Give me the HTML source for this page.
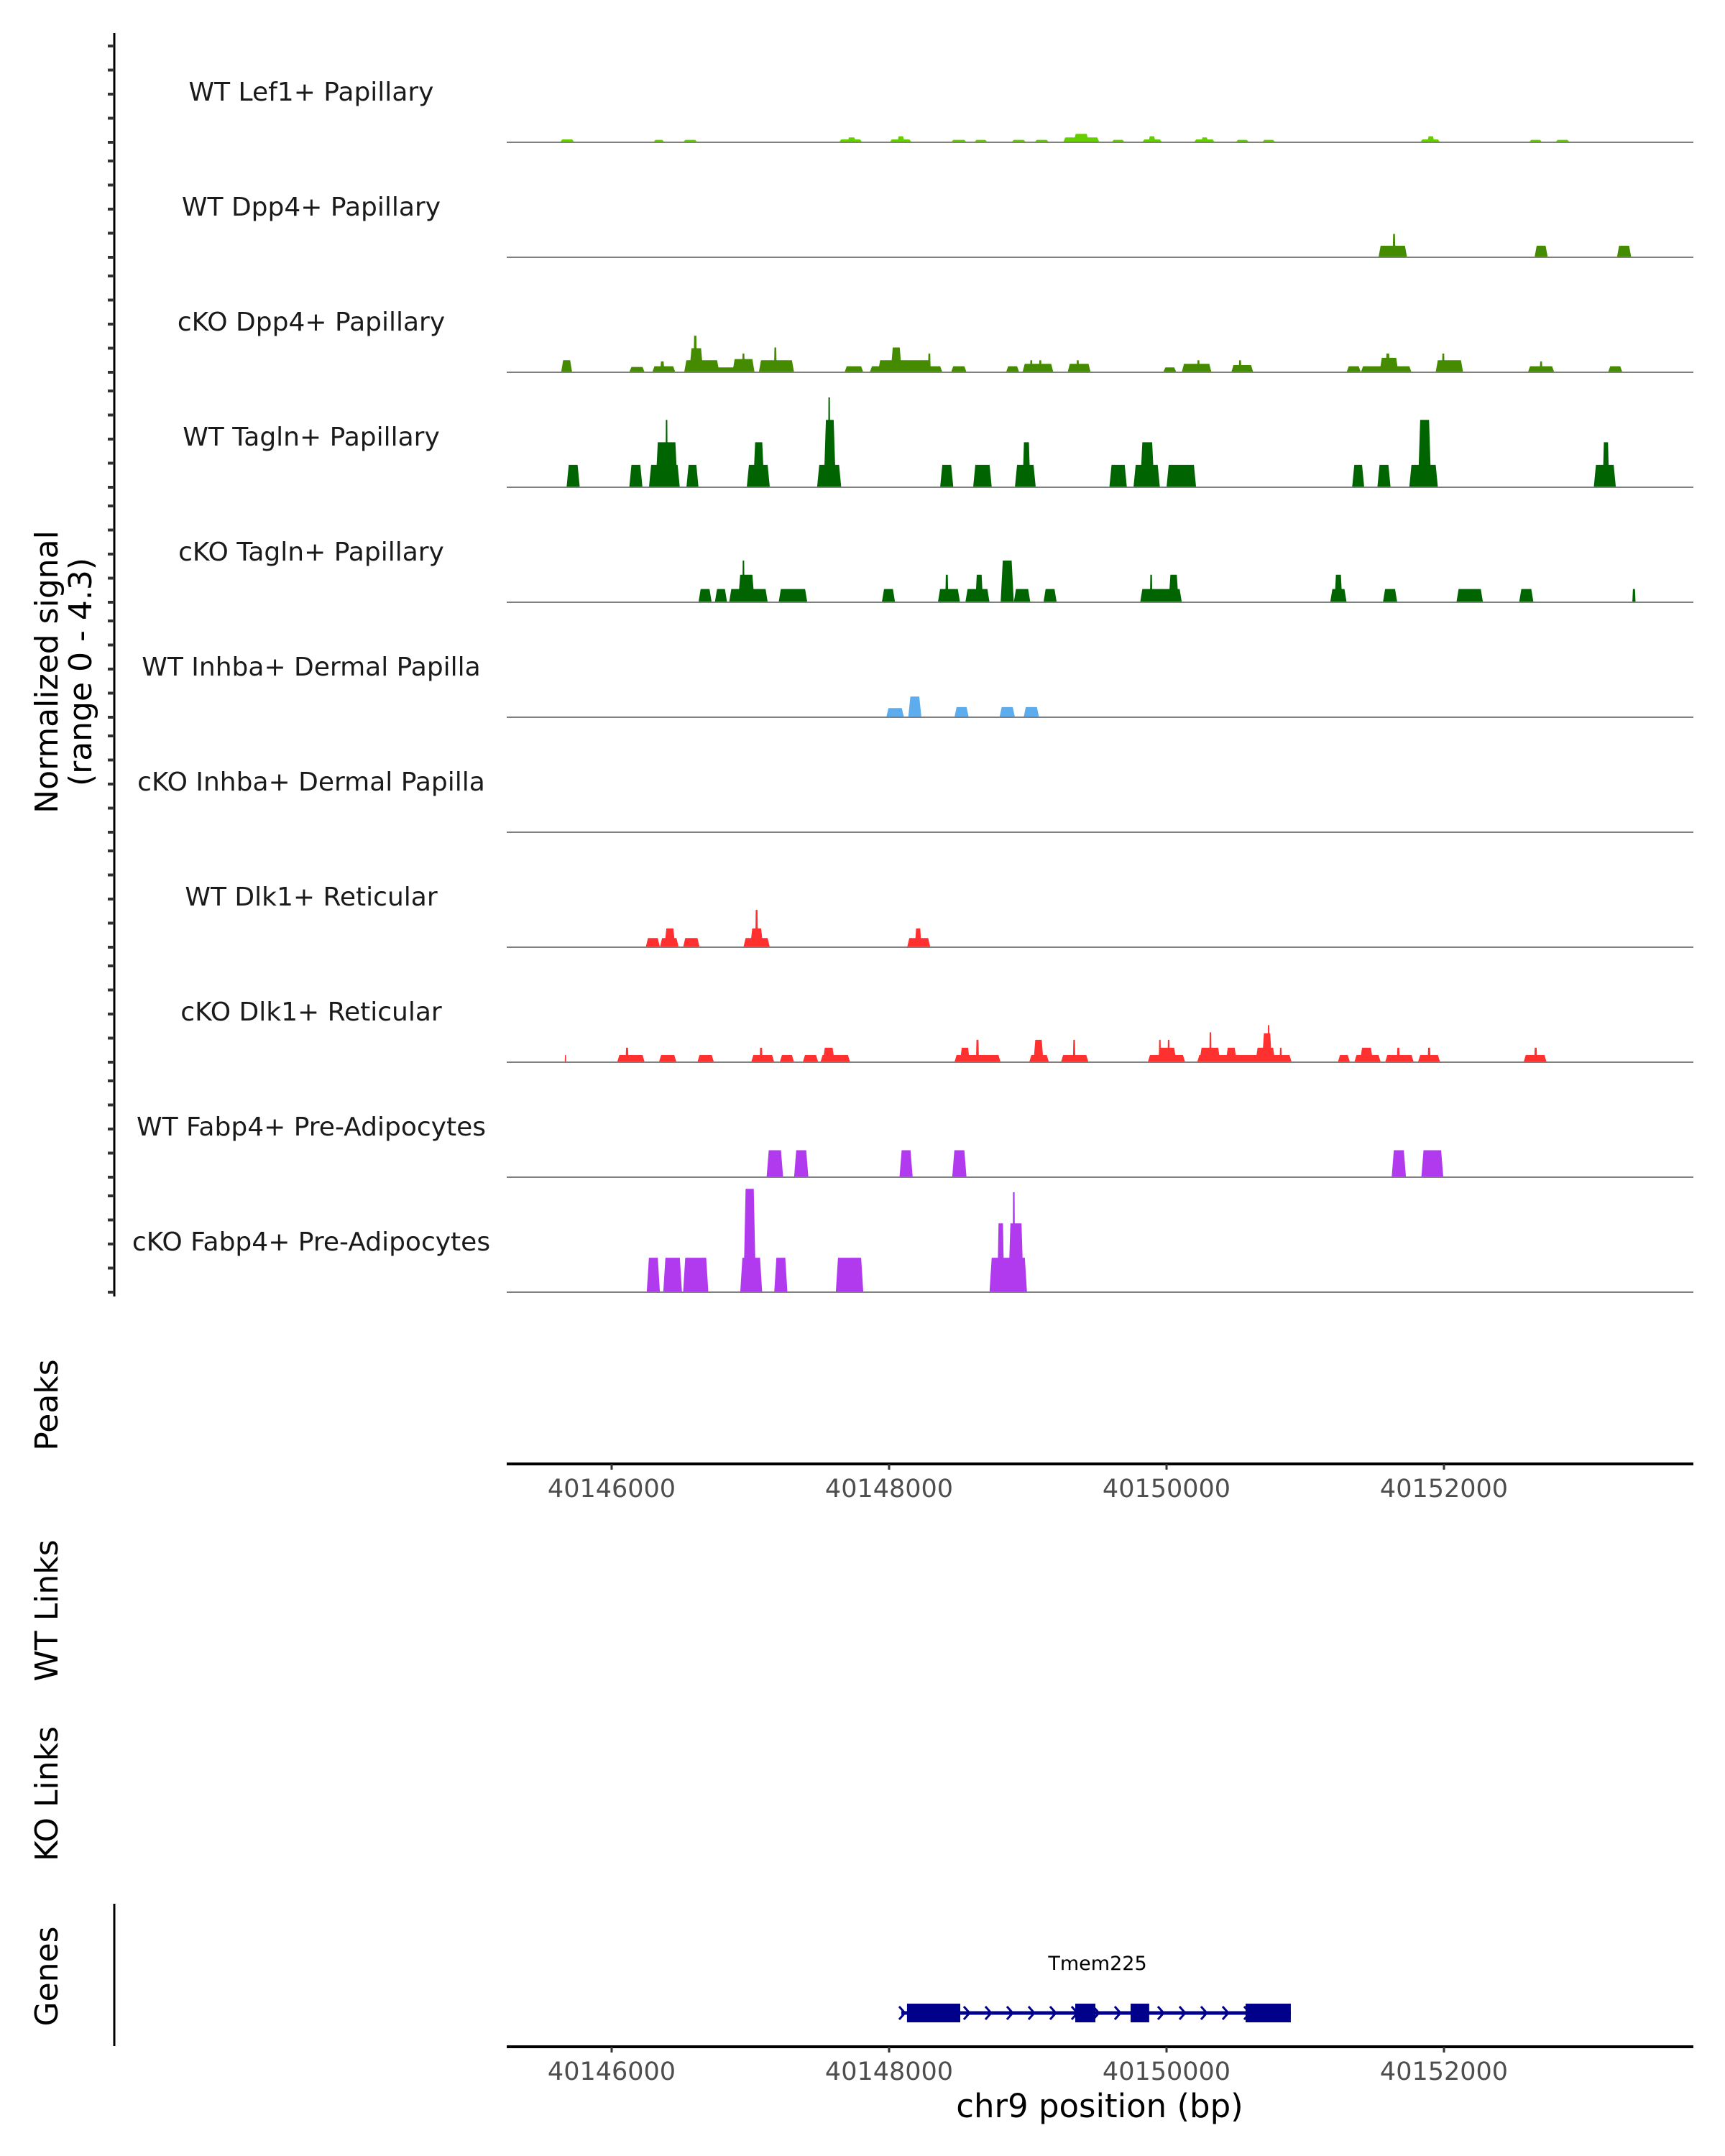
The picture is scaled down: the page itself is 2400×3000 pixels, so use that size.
<!DOCTYPE html>
<html><head><meta charset="utf-8"><style>
html,body{margin:0;padding:0;background:#fff;}
svg{display:block;font-family:"DejaVu Sans","Liberation Sans",sans-serif;}
</style></head><body>
<svg id="chart" width="2400" height="3000" viewBox="0 0 2400 3000" xmlns="http://www.w3.org/2000/svg">
<g id="tracks"></g>
<g id="labels" font-size="36" fill="#1a1a1a" text-anchor="middle"></g>
<line x1="159" y1="46" x2="159" y2="1804" stroke="#000" stroke-width="3"/>
<g id="yticks"></g>
<text transform="translate(80,935) rotate(-90)" text-anchor="middle" font-size="44" fill="#000">Normalized signal</text>
<text transform="translate(127,935) rotate(-90)" text-anchor="middle" font-size="44" fill="#000">(range 0 - 4.3)</text>
<text transform="translate(80,1955) rotate(-90)" text-anchor="middle" font-size="44" fill="#000">Peaks</text>
<text transform="translate(80,2241) rotate(-90)" text-anchor="middle" font-size="44" fill="#000">WT Links</text>
<text transform="translate(80,2496) rotate(-90)" text-anchor="middle" font-size="44" fill="#000">KO Links</text>
<text transform="translate(80,2750) rotate(-90)" text-anchor="middle" font-size="44" fill="#000">Genes</text>
<line x1="159" y1="2649" x2="159" y2="2847" stroke="#000" stroke-width="3"/>
<g id="axis1"></g>
<g id="axis2"></g>
<g id="gene"></g>
<text x="1527" y="2741" text-anchor="middle" font-size="27" fill="#000">Tmem225</text>
<text x="1530" y="2946" text-anchor="middle" font-size="45" fill="#000">chr9 position (bp)</text>
</svg>
<script>
const BASE = 40146000;
const trackNames = ["WT Lef1+ Papillary","WT Dpp4+ Papillary","cKO Dpp4+ Papillary","WT Tagln+ Papillary","cKO Tagln+ Papillary","WT Inhba+ Dermal Papilla","cKO Inhba+ Dermal Papilla","WT Dlk1+ Reticular","cKO Dlk1+ Reticular","WT Fabp4+ Pre-Adipocytes","cKO Fabp4+ Pre-Adipocytes"];
const trackColors = ["#66CD00","#458B00","#458B00","#006400","#006400","#5CACEE","#5CACEE","#FF3030","#FF3030","#B23AEE","#B23AEE"];
const xTicks = [40146000,40148000,40150000,40152000];
const xTickLabels = ["40146000","40148000","40150000","40152000"];
// peaks per track: [startOffsetBp, endOffsetBp, signal]
const peaksLef1 = [[-372,-269,.12],[301,380,.1],[515,618,.1],[1639,1806,.12],[1700,1760,.2],[2004,2162,.12],[2060,2110,.25],[2447,2558,.1],[2614,2709,.1],[2883,2986,.1],[3049,3152,.1],[3255,3516,.2],[3330,3440,.35],[3604,3699,.1],[3825,3968,.12],[3870,3920,.25],[4198,4348,.12],[4250,4300,.2],[4499,4594,.1],[4689,4784,.1],[5829,5972,.12],[5880,5930,.25],[6613,6708,.1],[6803,6906,.1]];
const peaksWtDpp4 = [[5528,5734,.48],[5630,5650,.97],[6653,6748,.48],[7247,7350,.48]];
const peaksKoDpp4 = [[-364,-285,.5],[127,238,.22],[293,459,.25],[350,380,.45],[523,776,.5],[590,615,1.52],[560,660,1.0],[665,1030,.2],[871,1030,.55],[940,960,.78],[1061,1315,.5],[1170,1190,1.03],[1679,1814,.25],[1861,2384,.25],[1920,2300,.5],[2012,2091,1.03],[2280,2300,.78],[2447,2558,.25],[2843,2938,.25],[2962,3184,.35],[3015,3035,.5],[3080,3100,.5],[3287,3453,.35],[3350,3370,.5],[3976,4071,.2],[4110,4324,.35],[4220,4240,.5],[4467,4625,.3],[4520,4540,.5],[5298,5401,.25],[5401,5766,.25],[5536,5671,.6],[5580,5610,.78],[5940,6138,.5],[5985,6005,.78],[6605,6795,.25],[6690,6710,.45],[7183,7286,.25]];
const peaksWtTagln = [[-325,-230,.93],[127,222,.93],[269,491,.93],[317,475,1.87],[388,404,2.8],[539,626,.93],[974,1140,.93],[1020,1100,1.87],[1481,1655,.93],[1529,1616,2.8],[1560,1576,3.73],[2368,2463,.93],[2606,2740,.93],[2907,3057,.93],[2962,3018,1.87],[3588,3714,.93],[3762,3952,.93],[3810,3912,1.87],[4000,4213,.93],[5338,5425,.93],[5520,5615,.93],[5750,5956,.93],[5813,5908,2.8],[7080,7239,.93],[7144,7191,1.87]];
const peaksKoTagln = [[626,721,.55],[744,832,.55],[847,1125,.55],[911,1030,1.14],[942,958,1.73],[1204,1410,.55],[1948,2043,.55],[2352,2511,.55],[2405,2427,1.14],[2550,2724,.55],[2622,2677,1.14],[2804,2899,1.73],[2899,3018,.55],[3113,3208,.55],[3810,4110,.55],[3880,3898,1.14],[4015,4087,1.14],[5180,5298,.55],[5211,5267,1.14],[5560,5663,.55],[6090,6281,.55],[6542,6645,.55],[7358,7381,.55]];
const peaksWtInhba = [[1980,2107,.38],[2138,2233,.86],[2471,2574,.42],[2796,2907,.42],[2970,3081,.42]];
const peaksKoInhba = [];
const peaksWtDlk1 = [[246,348,.38],[348,483,.38],[380,459,.78],[515,634,.38],[950,1140,.38],[998,1093,.78],[1035,1055,1.55],[2130,2297,.38],[2186,2233,.78]];
const peaksKoDlk1 = [[-338,-328,.3],[40,238,.3],[100,122,.6],[341,467,.3],[618,737,.3],[1006,1172,.3],[1066,1088,.6],[1212,1315,.3],[1378,1489,.3],[1505,1719,.3],[1521,1608,.6],[2471,2804,.3],[2511,2582,.6],[2626,2648,.93],[3010,3152,.3],[3041,3113,.93],[3239,3437,.3],[3325,3343,.93],[3865,4134,.3],[3936,4071,.6],[3944,3960,.93],[4007,4023,.93],[4221,4902,.3],[4237,4388,.6],[4308,4324,1.24],[4427,4506,.6],[4641,4784,.6],[4689,4760,1.2],[4728,4744,1.54],[4815,4831,.6],[5235,5322,.3],[5354,5544,.3],[5394,5489,.6],[5576,5782,.3],[5660,5682,.6],[5813,5972,.3],[5882,5904,.6],[6574,6740,.3],[6650,6672,.6]];
const peaksWtFabp4 = [[1117,1236,1.12],[1315,1418,1.12],[2075,2170,1.12],[2455,2558,1.12],[5623,5726,1.12],[5837,5995,1.12]];
const peaksKoFabp4 = [[253,348,1.43],[372,507,1.43],[515,697,1.43],[927,1085,1.43],[950,1040,4.29],[1172,1267,1.43],[1616,1814,1.43],[2724,2994,1.43],[2780,2830,2.86],[2859,2970,2.86],[2890,2908,4.15]];
const trackPeaks = [peaksLef1,peaksWtDpp4,peaksKoDpp4,peaksWtTagln,peaksKoTagln,peaksWtInhba,peaksKoInhba,peaksWtDlk1,peaksKoDlk1,peaksWtFabp4,peaksKoFabp4];
const geneSpan = [2088, 4896];
const exonStarts = [2129, 3342, 3741, 4570];
const exonEnds = [2513, 3487, 3875, 4896];

const NS = "http://www.w3.org/2000/svg";
const PX0 = 705, PX1 = 2356;
const xScale = bp => 851 + (bp - 40146000) * (386 / 2000);
const yScale = (i, v) => 198 + i * 160 - v * 33.5;
function mk(tag, attrs, parent) { const e = document.createElementNS(NS, tag); for (const k in attrs) e.setAttribute(k, attrs[k]); parent.appendChild(e); return e; }

const tracksG = document.getElementById('tracks');
const labelsG = document.getElementById('labels');
const yticksG = document.getElementById('yticks');
trackNames.forEach((name, i) => {
  const g = mk('g', {}, tracksG);
  
  
  const base = yScale(i, 0);
  trackPeaks[i].forEach(p => {
    const x0 = xScale(BASE + p[0]), x1 = xScale(BASE + p[1]);
    const s = Math.min((x1 - x0) * 0.18, 3);
    const yt = yScale(i, p[2]);
    const poly = mk('polygon', { points: `${x0},${base} ${x0 + s},${yt} ${x1 - s},${yt} ${x1},${base}`, fill: trackColors[i] }, g);
    
    
  });
  const bl = mk('line', { x1: PX0, x2: PX1, y1: base, y2: base, stroke: '#808080', 'stroke-width': 2 }, g);
  
  
  const t = mk('text', { x: 433, y: base - 58 }, labelsG);
  t.textContent = name;
  
  
  for (let k = 0; k <= 4; k++) {
    const y = yScale(i, k);
    const tk = mk('line', { x1: 150, x2: 159, y1: y, y2: y, stroke: '#333', 'stroke-width': 4 }, yticksG);
    
    
  }
});

function drawAxis(id, y) {
  const g = document.getElementById(id);
  const l = mk('line', { x1: PX0, x2: PX1, y1: y, y2: y, stroke: '#000', 'stroke-width': 4 }, g);
  
  
  xTicks.forEach((v, j) => {
    const x = xScale(v);
    const tk = mk('line', { x1: x, x2: x, y1: y, y2: y + 8, stroke: '#333', 'stroke-width': 3 }, g);
    
    
    const tl = mk('text', { x: x, y: y + 46, 'text-anchor': 'middle', 'font-size': 35, fill: '#4d4d4d' }, g);
    tl.textContent = xTickLabels[j];
    
    
  });
}
drawAxis('axis1', 2037);
drawAxis('axis2', 2848);

const gg = document.getElementById('gene');
const gy = 2801;
const gx0 = xScale(BASE + geneSpan[0]), gx1 = xScale(BASE + geneSpan[1]);
const gl = mk('line', { x1: gx0, x2: gx1, y1: gy, y2: gy, stroke: '#00008B', 'stroke-width': 5 }, gg);


for (let x = gx0 + 2; x < gx1 - 5; x += 30) {
  const a = mk('polyline', { points: `${x - 5},${gy - 9} ${x + 3},${gy} ${x - 5},${gy + 9}`, fill: 'none', stroke: '#00008B', 'stroke-width': 3 }, gg);
  
  
}
exonStarts.forEach((s, j) => {
  const x0 = xScale(BASE + s), x1 = xScale(BASE + exonEnds[j]);
  const r = mk('rect', { x: x0, y: gy - 13, width: x1 - x0, height: 26, fill: '#00008B' }, gg);
  
  
});
</script>
</body></html>
